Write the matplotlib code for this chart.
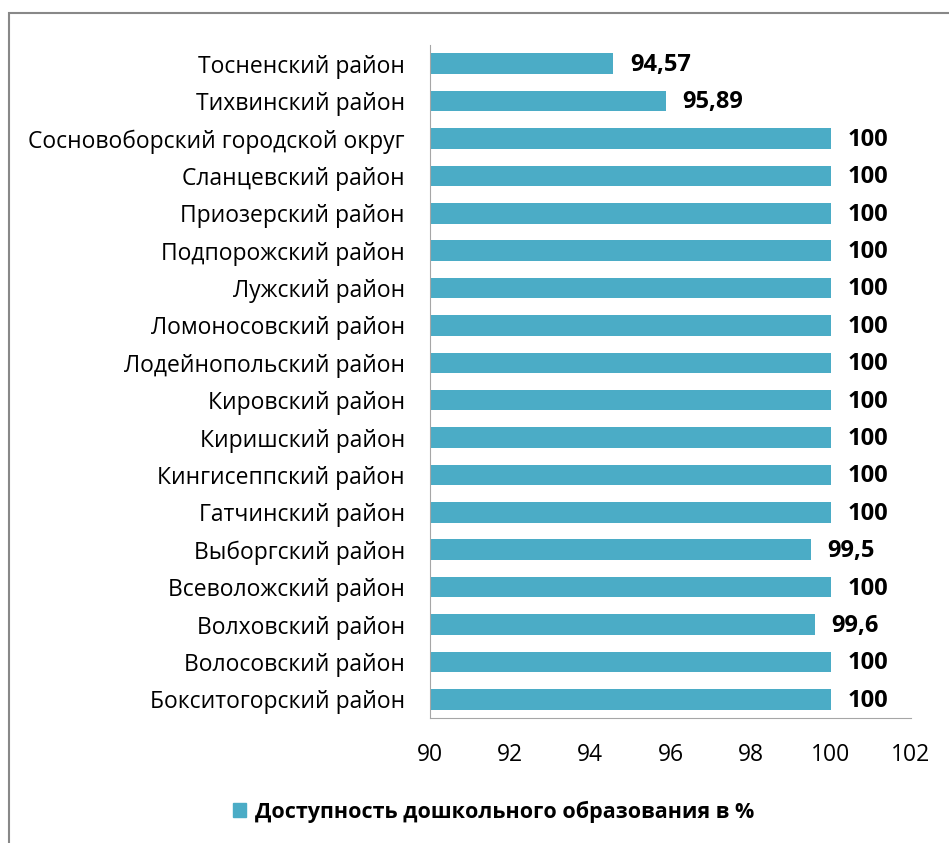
import matplotlib.pyplot as plt
from matplotlib.patches import Rectangle, Patch

districts = [
    'Бокситогорский район', 'Волосовский район', 'Волховский район',
    'Всеволожский район', 'Выборгский район', 'Гатчинский район',
    'Кингисеппский район', 'Киришский район', 'Кировский район',
    'Лодейнопольский район', 'Ломоносовский район', 'Лужский район',
    'Подпорожский район', 'Приозерский район', 'Сланцевский район',
    'Сосновоборский городской округ', 'Тихвинский район', 'Тосненский район',
]
values = [100, 100, 99.6, 100, 99.5, 100, 100, 100, 100,
          100, 100, 100, 100, 100, 100, 100, 95.89, 94.57]
value_labels = ['100', '100', '99,6', '100', '99,5', '100', '100', '100', '100',
                '100', '100', '100', '100', '100', '100', '100', '95,89', '94,57']
x_ticks = [90, 92, 94, 96, 98, 100, 102]
legend_label = 'Доступность дошкольного образования в %'

plt.rcParams['font.family'] = ['Open Sans', 'DejaVu Sans']
bar_color = '#4BACC6'

fig = plt.figure(figsize=(9.49, 8.43), dpi=100)
ax = fig.add_axes([0.453, 0.1483, 0.507, 0.7983])

y = list(range(len(districts)))
ax.barh(y, [v - 90 for v in values], left=90, height=0.55, color=bar_color)
for yi, v, lab in zip(y, values, value_labels):
    ax.annotate(lab, (v, yi), xytext=(12, -1), textcoords='offset points',
                va='center', ha='left', fontsize=17, fontweight='bold')

ax.set_xlim(90, 102)
ax.set_ylim(-0.5, len(districts) - 0.5)
ax.set_xticks(x_ticks)
ax.set_xticklabels([str(t) for t in x_ticks])
ax.set_yticks(y)
ax.set_yticklabels(districts)
ax.tick_params(axis='both', length=0, labelsize=16.5)
ax.tick_params(axis='y', pad=18)
ax.tick_params(axis='x', pad=18)
for s in ['top', 'right']:
    ax.spines[s].set_visible(False)
ax.spines['left'].set_color('#a6a6a6')
ax.spines['bottom'].set_color('#a6a6a6')

fig.legend(handles=[Patch(color=bar_color, label=legend_label)],
           loc='center', bbox_to_anchor=(0.52, 0.037), frameon=False,
           prop={'weight': 'bold', 'size': 15.5}, handlelength=0.6,
           handleheight=0.6, handletextpad=0.4)

fig.patches.append(Rectangle((9 / 949, -0.01), 1.0, 1 - 13 / 843 + 0.01,
                             transform=fig.transFigure, fill=False,
                             edgecolor='#888888', linewidth=1.5))

plt.savefig('out.png')
plt.close()
